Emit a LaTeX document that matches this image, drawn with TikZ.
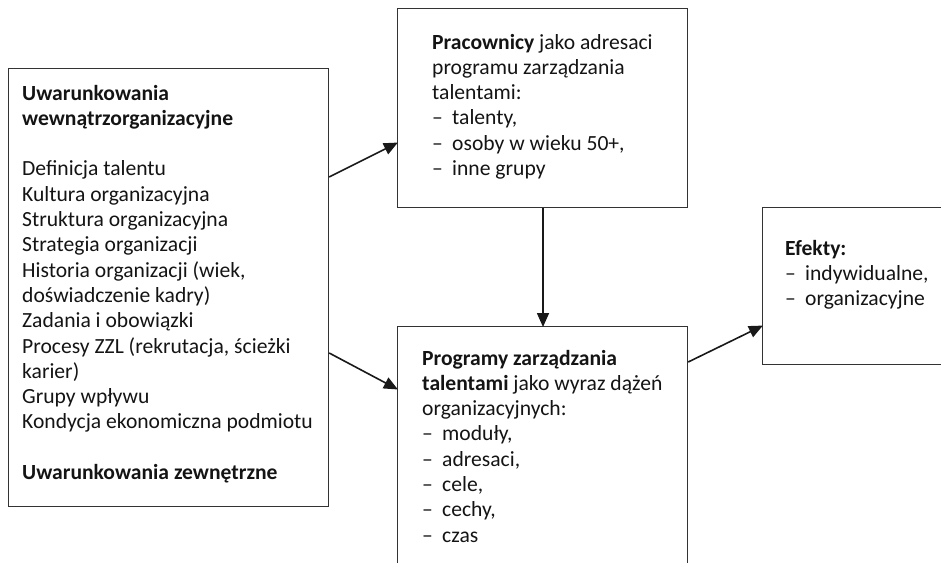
\documentclass[tikz,border=0pt]{standalone}
\usepackage{fontspec}
\setmainfont{Carlito}
\usetikzlibrary{arrows.meta}
\tikzset{
  box/.style={draw=black!80, line width=1.2pt, rectangle, inner sep=0pt, anchor=north west},
  txt/.style={anchor=base west, inner sep=0pt, text=black!92},
  arr/.style={line width=1.6pt, black!90, -{Triangle[length=14pt,width=12pt]}, shorten >=-1pt}
}
\newcommand{\itm}{\makebox[20pt][l]{–}}
\newcommand{\bodyfont}{\fontsize{21.6}{25.3}\selectfont}
\begin{document}
\begin{tikzpicture}[x=1pt,y=-1pt]
\useasboundingbox (0,0) rectangle (941,562);
\clip (0,0) rectangle (941,562);
% boxes
\node[box, minimum width=320pt, minimum height=438pt] (L) at (8,68) {};
\node[box, minimum width=290pt, minimum height=199pt] (T) at (397,8) {};
\node[box, minimum width=290pt, minimum height=280pt] (B) at (397,326) {};
\node[box, minimum width=200pt, minimum height=157pt] (R) at (762,207) {};
% texts
\node[txt] (Lt) at (22,100) {\parbox[t]{305pt}{\bodyfont\raggedright
\textbf{Uwarunkowania}\\
\textbf{wewnątrzorganizacyjne}\\[25.3pt]
Definicja talentu\\
Kultura organizacyjna\\
Struktura organizacyjna\\
Strategia organizacji\\
Historia organizacji (wiek,\\
doświadczenie kadry)\\
Zadania i obowiązki\\
Procesy ZZL (rekrutacja, ścieżki\\
karier)\\
Grupy wpływu\\
Kondycja ekonomiczna podmiotu\\[25.3pt]
\textbf{Uwarunkowania zewnętrzne}}};
\node[txt] (Tt) at (432,49) {\parbox[t]{250pt}{\bodyfont\raggedright
\textbf{Pracownicy} jako adresaci\\
programu zarządzania\\
talentami:\\
\itm talenty,\\
\itm osoby w wieku 50+,\\
\itm inne grupy}};
\node[txt] (Bt) at (422,365) {\parbox[t]{260pt}{\bodyfont\raggedright
\textbf{Programy zarządzania}\\
\textbf{talentami} jako wyraz dążeń\\
organizacyjnych:\\
\itm moduły,\\
\itm adresaci,\\
\itm cele,\\
\itm cechy,\\
\itm czas}};
\node[txt] (Rt) at (785,255) {\parbox[t]{160pt}{\bodyfont\raggedright
\textbf{Efekty:}\\
\itm indywidualne,\\
\itm organizacyjne}};
% connectors
\draw[arr] (L.east |- 0,177) -- (T.west |- 0,143);
\draw[arr] (L.east |- 0,353) -- (B.west |- 0,389);
\draw[arr] (T.south -| 543,0) -- (B.north -| 543,0);
\draw[arr] (B.east |- 0,362) -- (R.west |- 0,326);
\end{tikzpicture}
\end{document}
